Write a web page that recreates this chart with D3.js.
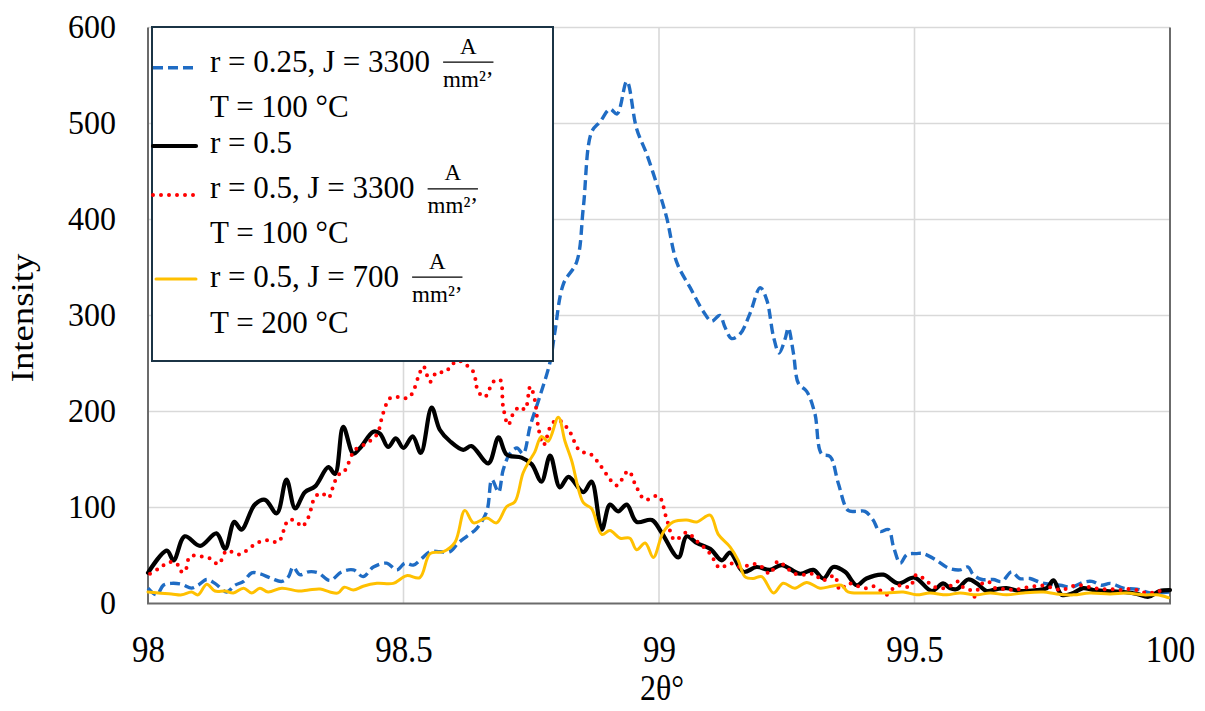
<!DOCTYPE html>
<html>
<head>
<meta charset="utf-8">
<script src="https://cdn.jsdelivr.net/npm/d3@7"></script>
<style>
  html, body { margin: 0; padding: 0; background: #ffffff; }
  svg { display: block; }
  text { font-family: "Liberation Serif", "DejaVu Serif", "Times New Roman", serif; fill: #000; }
</style>
</head>
<body>
<svg id="chart" width="1205" height="711"></svg>
<script>
// 2θ scan, intensity vs angle: [2θ, intensity] pairs for each sample
const seriesR025J3300T100 = [
  [98.000,16],[98.017,9],[98.030,19],[98.046,21],[98.066,20],[98.085,16],[98.098,19],[98.115,25],[98.131,21],[98.154,12],
  [98.170,19],[98.187,23],[98.203,32],[98.219,31],[98.242,26],[98.262,23],[98.275,28],[98.284,38],[98.297,30],[98.314,33],
  [98.333,32],[98.356,24],[98.379,33],[98.402,35],[98.421,28],[98.441,38],[98.467,42],[98.487,35],[98.503,42],[98.519,40],
  [98.536,47],[98.552,54],[98.571,54],[98.591,54],[98.607,63],[98.624,70],[98.643,78],[98.663,96],[98.673,129],[98.686,116],
  [98.695,139],[98.708,156],[98.722,162],[98.734,156],[98.748,185],[98.767,216],[98.787,252],[98.796,282],[98.813,333],[98.839,356],
  [98.852,413],[98.868,491],[98.885,502],[98.904,515],[98.918,510],[98.937,544],[98.956,495],[98.976,468],[98.999,431],[99.015,402],
  [99.035,355],[99.061,329],[99.087,304],[99.103,294],[99.119,300],[99.129,288],[99.142,276],[99.159,281],[99.178,302],[99.198,329],
  [99.211,316],[99.224,278],[99.235,261],[99.247,276],[99.253,287],[99.263,261],[99.273,229],[99.289,221],[99.305,198],[99.318,156],
  [99.335,153],[99.351,125],[99.370,97],[99.387,96],[99.403,96],[99.419,87],[99.432,75],[99.449,77],[99.459,59],[99.472,42],
  [99.485,51],[99.504,52],[99.517,52],[99.543,45],[99.566,37],[99.589,35],[99.605,38],[99.615,30],[99.632,25],[99.654,25],
  [99.671,23],[99.690,33],[99.706,26],[99.726,26],[99.746,22],[99.765,20],[99.785,19],[99.808,17],[99.830,22],[99.847,23],
  [99.866,19],[99.883,21],[99.909,16],[99.935,15],[99.961,11],[99.980,11],[100.000,12]
];

const seriesR05 = [
  [98.000,32],[98.037,55],[98.050,45],[98.072,70],[98.102,60],[98.134,73],[98.151,57],[98.169,85],[98.183,77],[98.209,103],
  [98.229,108],[98.252,94],[98.271,129],[98.288,99],[98.307,116],[98.327,122],[98.353,142],[98.366,135],[98.382,184],[98.402,156],
  [98.415,162],[98.441,179],[98.454,177],[98.470,163],[98.485,172],[98.500,162],[98.518,174],[98.534,157],[98.555,204],[98.571,181],
  [98.591,169],[98.617,160],[98.633,164],[98.666,146],[98.686,173],[98.702,155],[98.731,152],[98.751,145],[98.770,127],[98.787,154],
  [98.806,121],[98.823,132],[98.852,116],[98.868,127],[98.888,77],[98.904,103],[98.920,96],[98.937,103],[98.956,85],[98.986,87],
  [99.005,74],[99.038,48],[99.054,70],[99.074,63],[99.100,57],[99.123,45],[99.139,53],[99.165,33],[99.191,38],[99.217,35],
  [99.240,40],[99.276,31],[99.302,35],[99.322,26],[99.341,38],[99.364,33],[99.387,19],[99.406,26],[99.439,30],[99.468,21],
  [99.500,27],[99.534,13],[99.556,21],[99.569,16],[99.583,15],[99.605,25],[99.622,21],[99.641,13],[99.661,15],[99.680,16],
  [99.706,13],[99.739,14],[99.759,16],[99.772,24],[99.788,9],[99.811,11],[99.830,16],[99.850,14],[99.876,13],[99.909,12],
  [99.935,10],[99.958,7],[99.980,13],[100.000,14]
];

const seriesR05J3300T100 = [
  [98.004,31],[98.023,37],[98.040,43],[98.056,42],[98.063,34],[98.072,33],[98.082,49],[98.102,49],[98.121,47],[98.138,41],
  [98.154,55],[98.177,51],[98.190,54],[98.213,63],[98.235,66],[98.255,64],[98.275,87],[98.291,85],[98.301,80],[98.314,90],
  [98.327,111],[98.340,115],[98.353,110],[98.363,123],[98.372,134],[98.382,136],[98.392,146],[98.405,160],[98.428,167],[98.448,176],
  [98.460,198],[98.474,214],[98.493,215],[98.509,214],[98.519,221],[98.529,236],[98.539,247],[98.552,231],[98.565,241],[98.581,241],
  [98.597,250],[98.607,253],[98.624,248],[98.637,241],[98.646,221],[98.659,215],[98.676,231],[98.689,233],[98.695,205],[98.705,186],
  [98.715,198],[98.728,205],[98.738,202],[98.748,226],[98.757,212],[98.764,183],[98.774,165],[98.790,187],[98.803,191],[98.823,181],
  [98.845,159],[98.865,156],[98.881,147],[98.898,134],[98.917,123],[98.940,138],[98.956,121],[98.973,108],[98.999,112],[99.015,88],
  [99.031,66],[99.054,74],[99.074,65],[99.100,52],[99.119,37],[99.139,42],[99.159,38],[99.178,40],[99.191,41],[99.204,37],
  [99.217,31],[99.233,44],[99.250,37],[99.266,31],[99.289,30],[99.305,31],[99.318,24],[99.331,26],[99.344,29],[99.354,14],
  [99.370,21],[99.390,18],[99.406,16],[99.419,18],[99.432,14],[99.446,9],[99.459,16],[99.475,19],[99.491,17],[99.504,30],
  [99.524,23],[99.540,17],[99.556,16],[99.569,18],[99.586,23],[99.595,17],[99.609,14],[99.618,7],[99.628,19],[99.644,23],
  [99.658,16],[99.680,15],[99.697,14],[99.710,16],[99.726,17],[99.746,19],[99.765,17],[99.788,14],[99.808,18],[99.824,19],
  [99.843,17],[99.863,15],[99.883,15],[99.902,14],[99.918,15],[99.935,14],[99.954,11],[99.974,12],[99.994,16]
];

const seriesR05J700T200 = [
  [98.000,12],[98.020,11],[98.046,10],[98.066,9],[98.085,12],[98.098,9],[98.115,20],[98.131,13],[98.151,13],[98.167,11],
  [98.187,16],[98.203,11],[98.219,16],[98.235,12],[98.262,16],[98.294,13],[98.314,14],[98.337,15],[98.356,12],[98.372,11],
  [98.384,17],[98.402,14],[98.421,18],[98.448,21],[98.480,21],[98.506,29],[98.532,27],[98.552,52],[98.578,54],[98.601,64],
  [98.620,97],[98.637,84],[98.663,89],[98.682,84],[98.702,101],[98.718,106],[98.734,136],[98.748,150],[98.757,158],[98.770,174],
  [98.783,169],[98.803,194],[98.816,169],[98.829,149],[98.852,105],[98.868,99],[98.888,72],[98.904,76],[98.924,68],[98.943,68],
  [98.956,56],[98.973,63],[98.989,48],[99.008,74],[99.028,85],[99.054,87],[99.074,85],[99.100,92],[99.116,72],[99.139,59],
  [99.155,45],[99.168,28],[99.184,26],[99.201,28],[99.224,11],[99.243,21],[99.266,16],[99.289,22],[99.315,16],[99.338,18],
  [99.357,19],[99.370,12],[99.406,11],[99.446,11],[99.478,12],[99.504,9],[99.530,11],[99.563,9],[99.589,11],[99.622,9],
  [99.648,11],[99.680,9],[99.713,11],[99.752,12],[99.778,10],[99.811,9],[99.843,11],[99.883,10],[99.915,11],[99.948,9],
  [99.974,9],[99.997,6]
];

const xTicks = [98, 98.5, 99, 99.5, 100];
const yTicks = [0, 100, 200, 300, 400, 500, 600];
const xTitle = "2θ°";
const yTitle = "Intensity";

// legend rows: main label, optional current-density unit fraction, second line
const legendItems = [
  { label: "r = 0.25, J = 3300", unit: true, second: "T = 100 °C" },
  { label: "r = 0.5", unit: false, second: null },
  { label: "r = 0.5, J = 3300", unit: true, second: "T = 100 °C" },
  { label: "r = 0.5, J = 700", unit: true, second: "T = 200 °C" }
];

const seriesList = [
  { data: seriesR025J3300T100, color: "#1f6cc4", width: 3.4, dash: "10,5", cap: "butt" },
  { data: seriesR05, color: "#000000", width: 4.2, dash: null, cap: "round" },
  { data: seriesR05J3300T100, color: "#ff0000", width: 4, dash: "0,8", cap: "round" },
  { data: seriesR05J700T200, color: "#ffc000", width: 3, dash: null, cap: "round" }
];

const svg = d3.select("#chart");
const plot = { left: 148, right: 1170, top: 27.5, bottom: 603.5 };

const x = d3.scaleLinear().domain([98, 100]).range([plot.left, plot.right]);
const y = d3.scaleLinear().domain([0, 600]).range([plot.bottom, plot.top]);

// gridlines
const grid = svg.append("g");
grid.selectAll("line.h").data(yTicks.filter(d => d > 0)).join("line")
  .attr("x1", plot.left).attr("x2", plot.right)
  .attr("y1", d => y(d)).attr("y2", d => y(d))
  .attr("stroke", "#d9d9d9").attr("stroke-width", 1.6);
grid.selectAll("line.v").data(xTicks.filter(d => d > 98 && d < 100)).join("line")
  .attr("x1", d => x(d)).attr("x2", d => x(d))
  .attr("y1", plot.top).attr("y2", plot.bottom)
  .attr("stroke", "#d9d9d9").attr("stroke-width", 1.6);

// plot frame: left, bottom and right edges
svg.append("path")
  .attr("d", `M${plot.left},${plot.top} V${plot.bottom} H${plot.right} V${plot.top}`)
  .attr("fill", "none").attr("stroke", "#6b6b6b").attr("stroke-width", 2);

// series lines
const line = d3.line()
  .x(d => x(d[0])).y(d => y(d[1]))
  .curve(d3.curveCatmullRom.alpha(0.5));

const lines = svg.append("g");
seriesList.forEach(s => {
  lines.append("path")
    .attr("d", line(s.data))
    .attr("fill", "none")
    .attr("stroke", s.color)
    .attr("stroke-width", s.width)
    .attr("stroke-linecap", s.cap)
    .attr("stroke-linejoin", "round")
    .attr("stroke-dasharray", s.dash);
});

// y axis tick labels
const yAxis = svg.append("g").attr("transform", `translate(116,0)`)
  .call(d3.axisLeft(y).tickValues(yTicks).tickSize(0).tickPadding(0).tickFormat(d3.format("d")));
yAxis.attr("font-family", null);
yAxis.select(".domain").remove();
yAxis.selectAll("text")
  .attr("font-size", 32)
  .attr("dy", null).attr("x", null).attr("y", 0)
  .attr("text-anchor", "end")
  .attr("transform", "translate(0,10) scale(1,1.06)");

// x axis tick labels
const xAxis = svg.append("g").attr("transform", `translate(0,662)`)
  .call(d3.axisBottom(x).tickValues(xTicks).tickSize(0).tickPadding(0).tickFormat(d => String(d)));
xAxis.attr("font-family", null);
xAxis.select(".domain").remove();
xAxis.selectAll("text")
  .attr("font-size", 33)
  .attr("dy", null).attr("y", 0)
  .attr("text-anchor", "middle")
  .attr("transform", "scale(1,1.12)");

// axis titles
svg.append("text")
  .attr("transform", "translate(662,700) scale(1,1.1)")
  .attr("text-anchor", "middle")
  .attr("font-size", 32)
  .text(xTitle);

svg.append("text")
  .attr("transform", "translate(33,318) rotate(-90) scale(1.15,1)")
  .attr("text-anchor", "middle")
  .attr("font-size", 32)
  .text(yTitle);

// legend
const legend = svg.append("g");
legend.append("rect")
  .attr("x", 152).attr("y", 27).attr("width", 401).attr("height", 334)
  .attr("fill", "#ffffff").attr("stroke", "#1b3445").attr("stroke-width", 2);

const rowBaselines = [71.7, 152.7, 198.3, 286.7];
const secondBaselines = [116.7, null, 242.7, 333];
const sampleY = [67.7, 146, 195, 279];

legendItems.forEach((item, i) => {
  const s = seriesList[i];
  legend.append("line")
    .attr("x1", i === 3 ? 156 : 153).attr("x2", 196)
    .attr("y1", sampleY[i]).attr("y2", sampleY[i])
    .attr("stroke", s.color)
    .attr("stroke-width", s.width)
    .attr("stroke-linecap", s.cap)
    .attr("stroke-dasharray", s.dash);

  const t = legend.append("text")
    .attr("x", 210).attr("y", rowBaselines[i])
    .attr("font-size", 31)
    .text(item.label);

  if (item.unit) {
    const end = 210 + t.node().getComputedTextLength();
    const x0 = end + 13;
    const base = rowBaselines[i];
    const den = legend.append("text")
      .attr("x", x0).attr("y", base + 15)
      .attr("font-size", 23)
      .text("mm²’");
    const w = den.node().getComputedTextLength();
    legend.append("line")
      .attr("x1", x0).attr("x2", x0 + w)
      .attr("y1", base - 9.5).attr("y2", base - 9.5)
      .attr("stroke", "#000").attr("stroke-width", 1.3);
    legend.append("text")
      .attr("x", x0 + w / 2).attr("y", base - 18)
      .attr("text-anchor", "middle")
      .attr("font-size", 23)
      .text("A");
  }
  if (item.second) {
    legend.append("text")
      .attr("x", 210).attr("y", secondBaselines[i])
      .attr("font-size", 31)
      .text(item.second);
  }
});
</script>
</body>
</html>
